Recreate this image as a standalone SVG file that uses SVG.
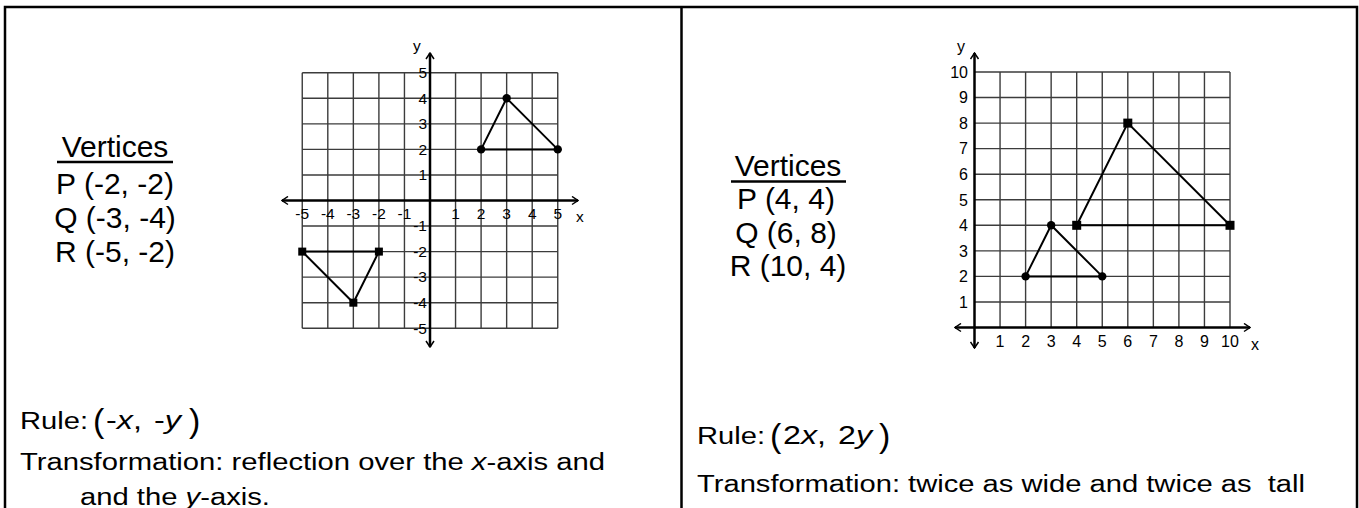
<svg xmlns="http://www.w3.org/2000/svg" width="1359" height="508" viewBox="0 0 1359 508">
<style>
.fr{fill:none;stroke:#000;stroke-width:2.5}
.grid{fill:none;stroke:#3c3c3c;stroke-width:1.4}
.axis{fill:none;stroke:#000;stroke-width:2.5;marker-start:url(#arr);marker-end:url(#arr)}
.tri{fill:none;stroke:#000;stroke-width:2}
.pt{fill:#000}
text{font-family:"Liberation Sans",Arial,sans-serif;fill:#000}
.lbl{font-size:15.5px}
.lbr{font-size:16px}
.big{font-size:30px}
.body{font-size:23.5px}
.expr{font-size:26px}
.par{font-size:34px}
.it{font-style:italic}
.ul{stroke:#000;stroke-width:2.5}
</style>
<defs>
<marker id="arr" viewBox="0 0 8 10" refX="7" refY="5" markerWidth="8" markerHeight="10" markerUnits="userSpaceOnUse" orient="auto-start-reverse">
<path d="M1,1 L7,5 L1,9" fill="none" stroke="#000" stroke-width="1.5"/>
</marker>
</defs>
<rect fill="#fff" x="0" y="0" width="1359" height="508"/>
<g id="frame">
<path class="fr" d="M5 520 V7 H1357 V520 M681.5 7 V520"/>
</g>

<g id="left-vertices">
<text class="big" x="115" y="156.5" text-anchor="middle">Vertices</text>
<line class="ul" x1="57" y1="162" x2="173" y2="162"/>
<text class="big" x="115" y="193.5" text-anchor="middle">P (-2, -2)</text>
<text class="big" x="115" y="227.5" text-anchor="middle">Q (-3, -4)</text>
<text class="big" x="115" y="261.5" text-anchor="middle">R (-5, -2)</text>
</g>

<g id="left-graph">
<path class="grid" d="M302.25 72.75V328.25M327.8 72.75V328.25M353.35 72.75V328.25M378.9 72.75V328.25M404.45 72.75V328.25M455.55 72.75V328.25M481.1 72.75V328.25M506.65 72.75V328.25M532.2 72.75V328.25M557.75 72.75V328.25M302.25 72.75H557.75M302.25 98.3H557.75M302.25 123.85H557.75M302.25 149.4H557.75M302.25 174.95H557.75M302.25 226.05H557.75M302.25 251.6H557.75M302.25 277.15H557.75M302.25 302.7H557.75M302.25 328.25H557.75"/>
<path class="axis" d="M282 200.5H578"/>
<path class="axis" d="M430 53V347"/>
<g class="lbl" text-anchor="end">
<text x="427" y="78">5</text>
<text x="427" y="103.5">4</text>
<text x="427" y="129">3</text>
<text x="427" y="154.6">2</text>
<text x="427" y="180.2">1</text>
<text x="427" y="231.3">-1</text>
<text x="427" y="256.8">-2</text>
<text x="427" y="282.4">-3</text>
<text x="427" y="308">-4</text>
<text x="427" y="333.5">-5</text>
</g>
<g class="lbl" text-anchor="middle">
<text x="302.25" y="218.5">-5</text>
<text x="327.8" y="218.5">-4</text>
<text x="353.35" y="218.5">-3</text>
<text x="378.9" y="218.5">-2</text>
<text x="404.45" y="218.5">-1</text>
<text x="455.55" y="218.5">1</text>
<text x="481.1" y="218.5">2</text>
<text x="506.65" y="218.5">3</text>
<text x="532.2" y="218.5">4</text>
<text x="557.75" y="218.5">5</text>
</g>
<text class="lbl" x="576" y="222">x</text>
<text class="lbl" x="413" y="51">y</text>
<path class="tri" d="M481.1 149.4L506.65 98.3L557.75 149.4Z"/>
<circle class="pt" cx="481.1" cy="149.4" r="4.2"/>
<circle class="pt" cx="506.65" cy="98.3" r="4.2"/>
<circle class="pt" cx="557.75" cy="149.4" r="4.2"/>
<path class="tri" d="M378.9 251.6L353.35 302.7L302.25 251.6Z"/>
<rect class="pt" x="374.9" y="247.6" width="8" height="8"/>
<rect class="pt" x="349.35" y="298.7" width="8" height="8"/>
<rect class="pt" x="298.25" y="247.6" width="8" height="8"/>
</g>

<g id="left-rule">
<text class="body" x="20" y="428.5" textLength="68" lengthAdjust="spacingAndGlyphs">Rule:</text>
<text class="par" x="93" y="431.5">(</text>
<text class="expr" x="106" y="428.5" textLength="36" lengthAdjust="spacingAndGlyphs">-<tspan class="it">x</tspan>,</text>
<text class="expr" x="154" y="428.5" textLength="27" lengthAdjust="spacingAndGlyphs">-<tspan class="it">y</tspan></text>
<text class="par" x="189" y="431.5">)</text>
<text class="body" x="20" y="470" textLength="585" lengthAdjust="spacingAndGlyphs">Transformation: reflection over the <tspan class="it">x</tspan>-axis and</text>
<text class="body" x="80" y="505" textLength="190" lengthAdjust="spacingAndGlyphs">and the <tspan class="it">y</tspan>-axis.</text>
</g>

<g id="right-vertices">
<text class="big" x="788" y="176" text-anchor="middle">Vertices</text>
<line class="ul" x1="731" y1="181.5" x2="846" y2="181.5"/>
<text class="big" x="786" y="209" text-anchor="middle">P (4, 4)</text>
<text class="big" x="786" y="242.5" text-anchor="middle">Q (6, 8)</text>
<text class="big" x="788" y="276" text-anchor="middle">R (10, 4)</text>
</g>

<g id="right-graph">
<path class="grid" d="M1000.05 72V327.5M1025.6 72V327.5M1051.15 72V327.5M1076.7 72V327.5M1102.25 72V327.5M1127.8 72V327.5M1153.35 72V327.5M1178.9 72V327.5M1204.45 72V327.5M1230 72V327.5M974.5 72H1230M974.5 97.55H1230M974.5 123.1H1230M974.5 148.65H1230M974.5 174.2H1230M974.5 199.75H1230M974.5 225.3H1230M974.5 250.85H1230M974.5 276.4H1230M974.5 301.95H1230"/>
<path class="axis" d="M955 327.5H1250"/>
<path class="axis" d="M974.5 53V348"/>
<g class="lbr" text-anchor="end">
<text x="968" y="307.7">1</text>
<text x="968" y="282.1">2</text>
<text x="968" y="256.6">3</text>
<text x="968" y="231">4</text>
<text x="968" y="205.5">5</text>
<text x="968" y="179.9">6</text>
<text x="968" y="154.4">7</text>
<text x="968" y="128.8">8</text>
<text x="968" y="103.3">9</text>
<text x="968" y="77.7">10</text>
</g>
<g class="lbr" text-anchor="middle">
<text x="1000.05" y="346.5">1</text>
<text x="1025.6" y="346.5">2</text>
<text x="1051.15" y="346.5">3</text>
<text x="1076.7" y="346.5">4</text>
<text x="1102.25" y="346.5">5</text>
<text x="1127.8" y="346.5">6</text>
<text x="1153.35" y="346.5">7</text>
<text x="1178.9" y="346.5">8</text>
<text x="1204.45" y="346.5">9</text>
<text x="1230" y="346.5">10</text>
</g>
<text class="lbr" x="1251" y="350">x</text>
<text class="lbr" x="957" y="52">y</text>
<path class="tri" d="M1025.6 276.4L1051.15 225.3L1102.25 276.4Z"/>
<circle class="pt" cx="1025.6" cy="276.4" r="4.2"/>
<circle class="pt" cx="1051.15" cy="225.3" r="4.2"/>
<circle class="pt" cx="1102.25" cy="276.4" r="4.2"/>
<path class="tri" d="M1076.7 225.3L1127.8 123.1L1230 225.3Z"/>
<rect class="pt" x="1072.2" y="220.8" width="9" height="9"/>
<rect class="pt" x="1123.3" y="118.6" width="9" height="9"/>
<rect class="pt" x="1225.5" y="220.8" width="9" height="9"/>
</g>

<g id="right-rule">
<text class="body" x="697" y="444" textLength="68" lengthAdjust="spacingAndGlyphs">Rule:</text>
<text class="par" x="770" y="447">(</text>
<text class="expr" x="783" y="444" textLength="43" lengthAdjust="spacingAndGlyphs">2<tspan class="it">x</tspan>,</text>
<text class="expr" x="838" y="444" textLength="34" lengthAdjust="spacingAndGlyphs">2<tspan class="it">y</tspan></text>
<text class="par" x="879" y="447">)</text>
<text class="body" x="697" y="492" textLength="608" lengthAdjust="spacingAndGlyphs" xml:space="preserve">Transformation: twice as wide and twice as  tall</text>
</g>
</svg>
